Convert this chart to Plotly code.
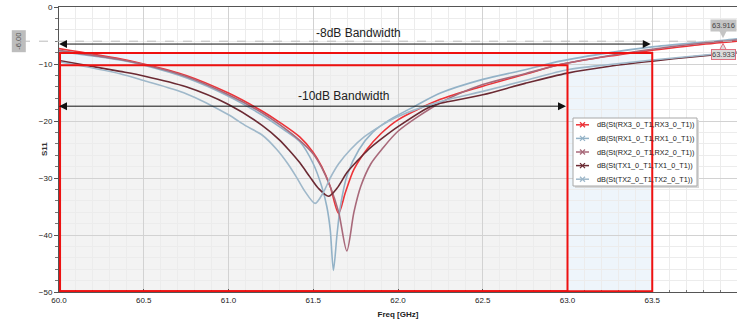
import plotly.graph_objects as go

# ---------------- data ----------------
names = ["dB(St(RX3_0_T1,RX3_0_T1))", "dB(St(RX1_0_T1,RX1_0_T1))",
         "dB(St(RX2_0_T1,RX2_0_T1))", "dB(St(TX1_0_T1,TX1_0_T1))",
         "dB(St(TX2_0_T1,TX2_0_T1))"]
colors = ["#ec3338", "#93b2c7", "#a8697a", "#6b2a33", "#9fb8ca"]

f_rx3 = [60.0, 60.36, 60.5, 60.75, 61.0, 61.2, 61.3, 61.42, 61.5, 61.55, 61.6, 61.649,
         61.69, 61.74, 61.816, 61.9, 62.0, 62.25, 62.5, 62.75, 62.956, 63.25, 63.5, 63.75, 64.0]
s_rx3 = [-7.3, -9.1, -10.0, -12.0, -15.1, -18.3, -20.2, -22.8, -25.5, -28.0, -31.5, -36.2,
         -32.5, -28.5, -25.0, -22.2, -19.8, -16.2, -13.9, -11.8, -10.1, -8.6, -7.6, -6.7, -6.0]

f_rx1 = [60.0, 60.36, 60.5, 60.75, 61.0, 61.2, 61.3, 61.42, 61.5, 61.55, 61.58, 61.6, 61.619,
         61.64, 61.66, 61.7, 61.77, 61.85, 61.95, 62.1, 62.25, 62.5, 62.75, 62.956, 63.25, 63.5,
         63.75, 63.92, 64.0]
s_rx1 = [-7.8, -9.3, -10.2, -12.4, -15.65, -19.0, -21.0, -23.6, -27.5, -31.5, -35.0, -39.0, -46.2,
         -40.0, -35.0, -29.5, -25.0, -22.0, -19.8, -17.4, -15.1, -12.7, -11.0, -9.5, -8.0, -7.0,
         -6.3, -5.85, -5.6]

f_rx2 = [60.0, 60.36, 60.5, 60.75, 61.0, 61.2, 61.3, 61.42, 61.5, 61.55, 61.6, 61.65, 61.698,
         61.74, 61.78, 61.84, 61.904, 62.0, 62.25, 62.5, 62.75, 62.956, 63.25, 63.5, 63.75, 64.0]
s_rx2 = [-7.6, -9.2, -10.1, -12.2, -15.4, -18.6, -20.6, -23.4, -25.8, -28.2, -31.5, -36.0, -42.8,
         -36.0, -31.5, -27.5, -25.0, -21.8, -16.8, -13.6, -11.7, -10.1, -8.5, -7.4, -6.5, -5.8]

f_tx1 = [60.0, 60.36, 60.5, 60.75, 61.0, 61.2, 61.3, 61.354, 61.42, 61.48, 61.53, 61.59,
         61.64, 61.7, 61.76, 61.826, 61.9, 62.0, 62.19, 62.25, 62.5, 62.75, 63.0, 63.25, 63.5,
         63.75, 64.0]
s_tx1 = [-9.4, -11.3, -12.1, -14.0, -17.1, -20.8, -23.3, -25.0, -27.3, -29.8, -31.8, -33.2,
         -31.8, -29.0, -27.0, -25.0, -23.2, -21.0, -17.5, -16.9, -15.4, -13.4, -11.6, -10.4, -9.5,
         -8.7, -8.0]

f_tx2 = [60.0, 60.36, 60.5, 60.75, 61.0, 61.1, 61.2, 61.285, 61.35, 61.4, 61.45, 61.511,
         61.56, 61.6, 61.65, 61.72, 61.8, 61.9, 62.0, 62.25, 62.5, 62.75, 63.0, 63.25, 63.5,
         63.75, 64.0]
s_tx2 = [-9.6, -11.7, -12.9, -15.2, -18.9, -20.8, -22.5, -25.0, -27.5, -29.8, -32.3, -34.45,
         -32.5, -30.0, -27.5, -25.0, -22.8, -20.8, -19.2, -16.6, -14.8, -12.9, -11.0, -10.1, -9.3,
         -8.6, -7.9]

freqs = [f_rx3, f_rx1, f_rx2, f_tx1, f_tx2]
vals = [s_rx3, s_rx1, s_rx2, s_tx1, s_tx2]

x_ticks = [60.0, 60.5, 61.0, 61.5, 62.0, 62.5, 63.0, 63.5, 64.0]
y_ticks = [0, -10, -20, -30, -40, -50]

bw8_f = [60.0, 63.5]
bw8_db = -8.05
bw10_f = [60.0, 63.0]
bw10_db = -10.2
marker_db = -6.0
marker_labels = ["63.916", "63.933"]

# ---------------- layout helpers (pixel -> paper) ----------------
L, R, T, B = 59, 737, 7, 292
def px(x):
    return (x - L) / (R - L)
def py(y):
    return (B - y) / (B - T)

fig = go.Figure()

for i in range(5):
    fig.add_trace(go.Scatter(x=freqs[i], y=vals[i], mode="lines", name=names[i],
                             line=dict(color=colors[i], width=1.6, shape="spline", smoothing=0.8),
                             showlegend=False, hoverinfo="skip"))

shapes = []
# filled bandwidth regions (below grid)
shapes.append(dict(type="rect", xref="x", yref="y", x0=bw8_f[0], x1=bw8_f[1], y0=-50, y1=bw8_db,
                   fillcolor="#eef5fb", line=dict(width=0), layer="below"))
shapes.append(dict(type="rect", xref="x", yref="y", x0=bw10_f[0], x1=bw10_f[1], y0=-50, y1=bw10_db,
                   fillcolor="#f3f3f3", line=dict(width=0), layer="below"))

# legend box (drawn manually, compact like the reference)
lx0, lx1, ly0, ly1 = 573, 697, 118, 186
shapes.append(dict(type="rect", xref="paper", yref="paper", x0=px(lx0 + 2), x1=px(lx1 + 2),
                   y0=py(ly1 + 2), y1=py(ly0 + 2), fillcolor="#d8d8d8", line=dict(width=0),
                   layer="above"))
shapes.append(dict(type="rect", xref="paper", yref="paper", x0=px(lx0), x1=px(lx1),
                   y0=py(ly1), y1=py(ly0), fillcolor="white",
                   line=dict(color="#a8a8a8", width=1), layer="above"))
row_h = (ly1 - ly0) / 5
for i in range(5):
    yc = ly0 + row_h * (i + 0.5)
    shapes.append(dict(type="line", xref="paper", yref="paper", x0=px(576), x1=px(589),
                       y0=py(yc), y1=py(yc), line=dict(color=colors[i], width=1.5), layer="above"))
    for d in (1, -1):
        shapes.append(dict(type="line", xref="paper", yref="paper", x0=px(580), x1=px(585),
                           y0=py(yc - 2.5 * d), y1=py(yc + 2.5 * d),
                           line=dict(color=colors[i], width=1.3), layer="above"))
    fig.add_annotation(x=px(595), y=py(yc), xref="paper", yref="paper", text=names[i],
                       showarrow=False, xanchor="left", yanchor="middle",
                       font=dict(family="Liberation Sans", size=7.3, color="#1a1a1a"))

# red outlines
for f, db in ((bw8_f, bw8_db), (bw10_f, bw10_db)):
    shapes.append(dict(type="rect", xref="x", yref="y", x0=f[0] + 0.006, x1=f[1], y0=-49.88, y1=db,
                       fillcolor="rgba(0,0,0,0)", line=dict(color="#ee1111", width=2), layer="above"))

# dashed marker line
shapes.append(dict(type="line", xref="paper", yref="y", x0=px(21), x1=1, y0=marker_db, y1=marker_db,
                   line=dict(color="#bbbbbb", width=1, dash="dash"), layer="above"))

# marker pointers
shapes.append(dict(type="path", xref="paper", yref="y",
                   path=f"M {px(719)},-4.1 L {px(727)},-4.1 L {px(723)},-5.5 Z",
                   fillcolor="#c4c4c4", line=dict(width=0), layer="above"))
shapes.append(dict(type="path", xref="paper", yref="y",
                   path=f"M {px(719)},-7.75 L {px(727)},-7.75 L {px(723)},-6.4 Z",
                   fillcolor="#dcdcdc", line=dict(color="#e07080", width=1), layer="above"))

fig.update_layout(shapes=shapes)

# bandwidth arrows
fig.add_annotation(x=bw8_f[0], y=-6.5, ax=bw8_f[1], ay=-6.5, xref="x", yref="y", axref="x", ayref="y",
                   text="", showarrow=True, arrowhead=2, arrowside="end+start", arrowsize=1.6,
                   arrowwidth=1, arrowcolor="#111111")
fig.add_annotation(x=bw10_f[0], y=-17.4, ax=bw10_f[1], ay=-17.4, xref="x", yref="y", axref="x", ayref="y",
                   text="", showarrow=True, arrowhead=2, arrowside="end+start", arrowsize=1.6,
                   arrowwidth=1, arrowcolor="#111111")
fig.add_annotation(x=61.765, y=-4.5, xref="x", yref="y", text="-8dB Bandwidth", showarrow=False,
                   font=dict(family="Liberation Sans", size=12, color="#222222"))
fig.add_annotation(x=61.676, y=-15.7, xref="x", yref="y", text="-10dB Bandwidth", showarrow=False,
                   font=dict(family="Liberation Sans", size=12, color="#222222"))

# marker labels
fig.add_annotation(x=px(11), y=marker_db, xref="paper", yref="y", text="-6.00", textangle=-90,
                   showarrow=False, bgcolor="#bdbdbd", borderpad=2,
                   font=dict(family="Liberation Sans", size=7.5, color="#555555"))
fig.add_annotation(x=px(723), y=-3.25, xref="paper", yref="y", text=marker_labels[0],
                   showarrow=False, bgcolor="#c4c4c4", borderpad=1, xanchor="center",
                   font=dict(family="Liberation Sans", size=7.5, color="#444444"))
fig.add_annotation(x=px(723), y=-8.4, xref="paper", yref="y", text=marker_labels[1],
                   showarrow=False, bgcolor="#dcdcdc", bordercolor="#e07080", borderwidth=1, borderpad=0,
                   xanchor="center", font=dict(family="Liberation Sans", size=7.5, color="#444444"))

# axis titles
fig.add_annotation(x=px(38), y=0.5, xref="paper", yref="paper", text="<b>S11</b>", textangle=-90,
                   showarrow=False, font=dict(family="Liberation Sans", size=8, color="#333333"))

fig.update_layout(
    width=737, height=321,
    margin=dict(l=L, r=0, t=T, b=321 - B, autoexpand=False),
    paper_bgcolor="white", plot_bgcolor="white",
    font=dict(family="Liberation Sans", size=8, color="#222222"),
    showlegend=False,
)
fig.update_xaxes(range=[60, 64], tickvals=x_ticks, ticktext=[f"{v:.1f}" for v in x_ticks],
                 showline=True, linecolor="#555555", linewidth=1, mirror=True,
                 ticks="inside", ticklen=3, tickcolor="#555555",
                 showgrid=True, gridcolor="#d2d2d2", gridwidth=1, zeroline=False,
                 minor=dict(dtick=0.1, showgrid=True, gridcolor="#ececec", ticks="inside",
                            ticklen=2, tickcolor="#777777"),
                 title=dict(text="<b>Freq [GHz]</b>", standoff=7, font=dict(size=8)),
                 tickfont=dict(size=8), automargin=False)
fig.update_yaxes(range=[-50, 0], tickvals=y_ticks, showline=True, linecolor="#555555", linewidth=1,
                 ticks="outside", ticklen=4, tickcolor="#555555",
                 showgrid=True, gridcolor="#d2d2d2", gridwidth=1, zeroline=False,
                 minor=dict(dtick=2, showgrid=True, gridcolor="#ececec", ticks="outside",
                            ticklen=3, tickcolor="#777777"),
                 tickfont=dict(size=8), automargin=False)

fig.write_html("out.html")
